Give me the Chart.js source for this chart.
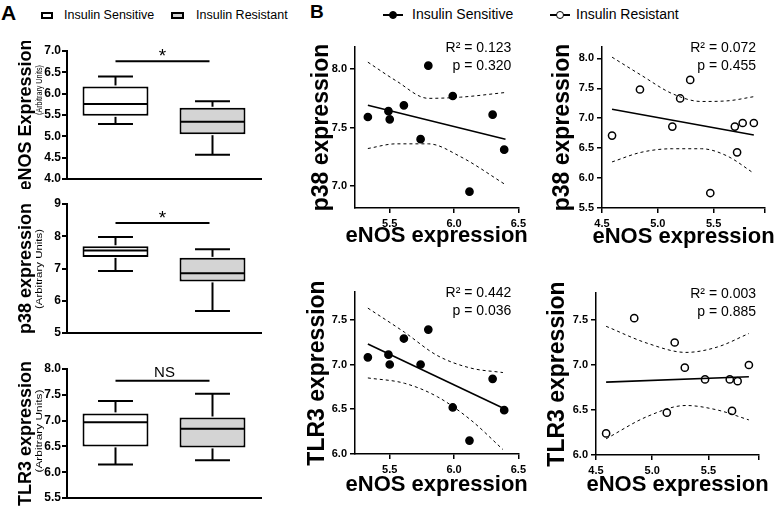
<!DOCTYPE html>
<html lang="en">
<head>
  <meta charset="UTF-8">
  <title>eNOS, p38 and TLR3 expression</title>
  <script src="https://cdn.jsdelivr.net/npm/chart.js@4.4.1/dist/chart.umd.min.js"></script>
  <style>
    html, body { margin: 0; padding: 0; background: #fff; }
    #fig { position: relative; width: 778px; height: 506px; overflow: hidden; font-family: "Liberation Sans", Arial, sans-serif; color: #000; }
    #fig canvas { position: absolute; }
    .panel { position: absolute; font-weight: bold; line-height: 1; }
    .leg { position: absolute; line-height: 1; white-space: nowrap; }
    .sw { position: absolute; box-sizing: border-box; border: 2px solid #000; }
    .ln { position: absolute; height: 2px; background: #000; }
    .dot { position: absolute; box-sizing: border-box; border-radius: 50%; border: 1.5px solid #000; }
  </style>
</head>
<body>
  <div id="fig">
    <span class="panel" style="left:1px;top:2px;font-size:21px">A</span>
    <span class="panel" style="left:310px;top:2px;font-size:19px">B</span>

    <!-- legend A -->
    <div class="sw" style="left:41px;top:12px;width:12px;height:7px;background:#fff"></div>
    <span class="leg" style="left:64px;top:9px;font-size:12.5px">Insulin Sensitive</span>
    <div class="sw" style="left:171px;top:12px;width:13px;height:7px;background:#d4d4d4"></div>
    <span class="leg" style="left:196px;top:9px;font-size:12.5px">Insulin Resistant</span>

    <!-- legend B -->
    <div class="ln" style="left:383px;top:14px;width:20px"></div>
    <div class="dot" style="left:389px;top:11px;width:8px;height:8px;background:#000"></div>
    <span class="leg" style="left:412px;top:7px;font-size:14px">Insulin Sensitive</span>
    <div class="ln" style="left:550px;top:14px;width:20px"></div>
    <div class="dot" style="left:556px;top:11px;width:8px;height:8px;background:#fff"></div>
    <span class="leg" style="left:576px;top:7px;font-size:14px">Insulin Resistant</span>

    <canvas id="boxEnos"></canvas>
    <canvas id="boxP38"></canvas>
    <canvas id="boxTlr3"></canvas>
    <canvas id="scIsP38"></canvas>
    <canvas id="scIrP38"></canvas>
    <canvas id="scIsTlr3"></canvas>
    <canvas id="scIrTlr3"></canvas>
  </div>

  <script>
    var FONT = '"Liberation Sans", Arial, sans-serif';
    var GROUPS = ["Insulin Sensitive", "Insulin Resistant"];

    // Panel A box plots: whisker min, Q1, median, Q3, whisker max (sensitive, resistant)
    var enosMin = [5.29, 4.57], enosQ1 = [5.48, 5.05], enosMed = [5.76, 5.34], enosQ3 = [6.17, 5.67], enosMax = [6.40, 5.82];
    var p38Min = [6.92, 5.68], p38Q1 = [7.36, 6.60], p38Med = [7.56, 6.85], p38Q3 = [7.69, 7.33], p38Max = [7.98, 7.60];
    var tlrMin = [6.15, 6.23], tlrQ1 = [6.50, 6.48], tlrMed = [6.97, 6.84], tlrQ3 = [7.14, 7.06], tlrMax = [7.38, 7.52];

    // Panel B individual subjects
    var isEnos = [5.33, 5.49, 5.50, 5.61, 5.74, 5.80, 5.99, 6.12, 6.30, 6.39];
    var isP38  = [7.59, 7.64, 7.57, 7.69, 7.40, 8.03, 7.77, 6.95, 7.61, 7.31];
    var isTlr3 = [7.08, 7.11, 7.00, 7.29, 7.00, 7.39, 6.52, 6.15, 6.84, 6.49];
    var irEnos = [4.59, 4.84, 5.13, 5.20, 5.29, 5.47, 5.69, 5.71, 5.76, 5.86];
    var irP38  = [6.71, 7.48, 6.86, 7.33, 7.64, 5.75, 6.86, 6.43, 6.92, 6.92];
    var irTlr3 = [6.24, 7.52, 6.47, 7.25, 6.97, 6.84, 6.84, 6.49, 6.82, 7.00];

    // Regression lines (ends) and 95% bands
    var fitIsP38X = [5.33, 6.40], fitIsP38Y = [7.69, 7.40];
    var bandIsP38X = [5.33, 5.55, 5.80, 6.05, 6.40];
    var bandIsP38Hi = [8.06, 7.90, 7.75, 7.76, 7.80];
    var bandIsP38Lo = [7.32, 7.36, 7.36, 7.25, 7.01];

    var fitIrP38X = [4.59, 5.86], fitIrP38Y = [7.15, 6.72];
    var bandIrP38X = [4.59, 4.85, 5.13, 5.39, 5.62, 5.86];
    var bandIrP38Hi = [8.02, 7.72, 7.41, 7.28, 7.29, 7.36];
    var bandIrP38Lo = [6.27, 6.43, 6.49, 6.49, 6.37, 6.08];

    var fitIsTlr3X = [5.33, 6.40], fitIsTlr3Y = [7.23, 6.50];
    var bandIsTlr3X = [5.33, 5.615, 5.87, 6.13, 6.38];
    var bandIsTlr3Hi = [7.63, 7.36, 7.10, 6.96, 6.91];
    var bandIsTlr3Lo = [6.85, 6.79, 6.64, 6.38, 6.05];

    var fitIrTlr3X = [4.59, 5.86], fitIrTlr3Y = [6.81, 6.87];
    var bandIrTlr3X = [4.59, 4.96, 5.30, 5.58, 5.86];
    var bandIrTlr3Hi = [7.43, 7.24, 7.14, 7.20, 7.35];
    var bandIrTlr3Lo = [6.18, 6.43, 6.55, 6.50, 6.39];

    // Tick values and labels
    var isXTicks = [5.5, 6.0, 6.5], isXLabels = ["5.5", "6.0", "6.5"];
    var irXTicksTop = [4.5, 5.0, 5.5, 5.96], irXTicksBot = [4.5, 5.0, 5.5, 5.95], irXLabels = ["4.5", "5.0", "5.5", ""];
    var isP38Ticks = [7.0, 7.5, 8.0];
    var irP38Ticks = [5.5, 6.0, 6.5, 7.0, 7.5, 8.0];
    var tlr3Ticks = [6.0, 6.5, 7.0, 7.5];

    var stIsP38 = ["R\u00B2 = 0.123", "p = 0.320"];
    var stIrP38 = ["R\u00B2 = 0.072", "p = 0.455"];
    var stIsTlr3 = ["R\u00B2 = 0.442", "p = 0.036"];
    var stIrTlr3 = ["R\u00B2 = 0.003", "p = 0.885"];

    function pts(xs, ys) {
      return xs.map(function(x, i) { return {x: x, y: ys[i]}; });
    }

    function place(id, left, top, w, h) {
      var c = document.getElementById(id);
      c.width = w; c.height = h;
      c.style.left = left + "px"; c.style.top = top + "px";
      c.style.width = w + "px"; c.style.height = h + "px";
      return c;
    }

    /* axis titles drawn at full width (the built-in title gets squeezed to the axis length) */
    var axisText = {
      id: "axisText",
      afterDraw: function(chart, args, o) {
        var ctx = chart.ctx, a = chart.chartArea;
        ctx.save();
        ctx.fillStyle = "#000";
        ctx.textAlign = "center";
        ctx.textBaseline = "middle";
        if (o.x) {
          ctx.font = "bold " + o.xSize + "px " + FONT;
          ctx.fillText(o.x, (a.left + a.right) / 2, a.bottom + o.xOff);
        }
        if (o.y) {
          ctx.translate(a.left - o.yOff, (a.top + a.bottom) / 2);
          ctx.rotate(-Math.PI / 2);
          ctx.font = "bold " + o.ySize + "px " + FONT;
          ctx.fillText(o.y, 0, 0);
        }
        ctx.restore();
      }
    };

    /* medians, whiskers, significance bar and small axis subtitle */
    var boxExtras = {
      id: "boxExtras",
      afterDatasetsDraw: function(chart, args, o) {
        var ctx = chart.ctx, xs = chart.scales.x, ys = chart.scales.y;
        var bars = chart.getDatasetMeta(0).data;
        function seg(x1, y1, x2, y2) { ctx.beginPath(); ctx.moveTo(x1, y1); ctx.lineTo(x2, y2); ctx.stroke(); }
        ctx.save();
        ctx.strokeStyle = "#000";
        ctx.lineWidth = 2;
        bars.forEach(function(bar, i) {
          var cx = xs.getPixelForValue(i), hw = bar.width / 2 - 1, cap = bar.width / 2 * 0.53;
          var yMed = ys.getPixelForValue(o.med[i]);
          seg(cx - hw, yMed, cx + hw, yMed);
          seg(cx, ys.getPixelForValue(o.q3[i]) - 1, cx, ys.getPixelForValue(o.max[i]));
          seg(cx - cap, ys.getPixelForValue(o.max[i]), cx + cap, ys.getPixelForValue(o.max[i]));
          seg(cx, ys.getPixelForValue(o.q1[i]) + 1, cx, ys.getPixelForValue(o.min[i]));
          seg(cx - cap, ys.getPixelForValue(o.min[i]), cx + cap, ys.getPixelForValue(o.min[i]));
        });
        // significance bar
        var x0 = xs.getPixelForValue(0), x1 = xs.getPixelForValue(1) - 3, sy = ys.getPixelForValue(o.sigY);
        seg(x0, sy, x1, sy);
        ctx.fillStyle = "#000";
        ctx.textAlign = "center";
        ctx.textBaseline = "alphabetic";
        if (o.sigText == "*") {
          ctx.font = "19px " + FONT;
          ctx.fillText("*", (x0 + x1) / 2, sy + 1);
        } else {
          ctx.font = "15px " + FONT;
          ctx.fillText(o.sigText, (x0 + x1) / 2 + 2, sy - 4);
        }
        // "(Arbitrary Units)"
        ctx.font = "9px " + FONT;
        ctx.textBaseline = "middle";
        var w = ctx.measureText("(Arbitrary Units)").width;
        ctx.translate(40, o.subY);
        ctx.rotate(-Math.PI / 2);
        ctx.scale(o.subLen / w, 1);
        ctx.fillText("(Arbitrary Units)", 0, 0);
        ctx.restore();
      }
    };

    function boxPlot(id, top, bottom, yMin, yMax, step, dec, title, q1, q3, med, min, max, sigY, sigText, subY, subLen) {
      var canvasTop = top - 10;
      var canvas = place(id, 0, canvasTop, 271, bottom - canvasTop + 10);
      return new Chart(canvas, {
        type: "bar",
        data: {
          labels: GROUPS,
          datasets: [{
            data: GROUPS.map(function(g, i) { return [q1[i], q3[i]]; }),
            backgroundColor: ["#ffffff", "#d4d4d4"],
            borderColor: "#000",
            borderWidth: 2,
            borderSkipped: false,
            barPercentage: 0.68,
            categoryPercentage: 1
          }]
        },
        options: {
          responsive: false,
          animation: false,
          events: [],
          layout: { padding: { top: 10, right: 10, bottom: 8, left: 0 } },
          plugins: {
            legend: { display: false },
            tooltip: { enabled: false },
            boxExtras: { q1: q1, q3: q3, med: med, min: min, max: max, sigY: sigY, sigText: sigText, subY: subY - canvasTop, subLen: subLen },
            axisText: { y: title, ySize: 18, yOff: 41 }
          },
          scales: {
            x: {
              ticks: { display: false },
              grid: { display: false },
              border: { display: true, color: "#000", width: 2 },
              afterFit: function(s) { s.height = 2; }
            },
            y: {
              min: yMin, max: yMax,
              ticks: { stepSize: step, padding: 1, color: "#000", font: { family: FONT, size: 12, weight: "bold" },
                callback: function(v) { return v.toFixed(dec); } },
              grid: { drawOnChartArea: false, tickLength: 5, color: "#000", lineWidth: 2 },
              border: { color: "#000", width: 2 },
              afterFit: function(s) { s.width = 67; }
            }
          }
        },
        plugins: [boxExtras, axisText]
      });
    }

    /* R² and p text in the upper right corner */
    var statText = {
      id: "statText",
      afterDraw: function(chart, args, o) {
        var ctx = chart.ctx, a = chart.chartArea;
        ctx.save();
        ctx.fillStyle = "#000";
        ctx.font = "14px " + FONT;
        ctx.textAlign = "right";
        ctx.textBaseline = "middle";
        ctx.fillText(o.lines[0], a.right - o.dx, a.top + 1);
        ctx.fillText(o.lines[1], a.right - o.dx, a.top + 19);
        ctx.restore();
      }
    };

    function scatterPlot(id, left, top, right, bottom, yW, xH, p) {
      var canvasLeft = left - yW, canvasTop = top - 10;
      var canvas = place(id, canvasLeft, canvasTop, right + 10 - canvasLeft, bottom - canvasTop + xH);
      var tickFont = { family: FONT, size: 11, weight: "bold" };
      var bandStyle = { showLine: true, borderColor: "#000", borderWidth: 1, borderDash: [3, 3], pointRadius: 0, cubicInterpolationMode: "monotone", fill: false };
      return new Chart(canvas, {
        type: "scatter",
        data: {
          datasets: [
            Object.assign({ data: pts(p.bandX, p.bandHi) }, bandStyle),
            Object.assign({ data: pts(p.bandX, p.bandLo) }, bandStyle),
            { data: pts(p.fitX, p.fitY), showLine: true, borderColor: "#000", borderWidth: 1.6, pointRadius: 0 },
            { data: pts(p.x, p.y), pointRadius: 3.6, pointBorderWidth: 1.5, pointBorderColor: "#000", pointBackgroundColor: p.fill }
          ]
        },
        options: {
          responsive: false,
          animation: false,
          events: [],
          layout: { padding: { top: 10, right: 10, bottom: 0, left: 0 } },
          plugins: {
            legend: { display: false },
            tooltip: { enabled: false },
            statText: { lines: p.stats, dx: p.dx },
            axisText: { x: "eNOS expression", xSize: 22, xOff: p.xOff, y: p.yTitle, ySize: 23, yOff: p.yOff }
          },
          scales: {
            x: {
              type: "linear", min: p.xMin, max: p.xMax,
              afterBuildTicks: function(s) { s.ticks = p.xTicks.map(function(v) { return { value: v }; }); },
              ticks: { padding: 4, color: "#000", font: tickFont, callback: function(v, i) { return p.xLabels[i]; } },
              grid: { drawOnChartArea: false, tickLength: 5, color: "#000", lineWidth: 1.5 },
              border: { color: "#000", width: 1.5 },
              afterFit: function(s) { s.height = xH; }
            },
            y: {
              min: p.yMin, max: p.yMax,
              afterBuildTicks: function(s) { s.ticks = p.yTicks.map(function(v) { return { value: v }; }); },
              ticks: { padding: 3, color: "#000", font: tickFont, callback: function(v) { return v.toFixed(1); } },
              grid: { drawOnChartArea: false, tickLength: 5, color: "#000", lineWidth: 1.5 },
              border: { color: "#000", width: 1.5 },
              afterFit: function(s) { s.width = yW; }
            }
          }
        },
        plugins: [statText, axisText]
      });
    }

    // Panel A
    boxPlot("boxEnos", 51, 179, 4.0, 7.0, 0.5, 1, "eNOS Expression",
      enosQ1, enosQ3, enosMed, enosMin, enosMax, 6.76, "*", 90, 50);
    boxPlot("boxP38", 204, 333, 5, 9, 1, 0, "p38 expression",
      p38Q1, p38Q3, p38Med, p38Min, p38Max, 8.41, "*", 269, 80);
    boxPlot("boxTlr3", 369, 498, 5.5, 8.0, 0.5, 1, "TLR3 expression",
      tlrQ1, tlrQ3, tlrMed, tlrMin, tlrMax, 7.77, "NS", 431, 83);

    // Panel B
    scatterPlot("scIsP38", 355, 47, 520, 208, 55, 44, {
      x: isEnos, y: isP38, fill: "#000", fitX: fitIsP38X, fitY: fitIsP38Y,
      bandX: bandIsP38X, bandHi: bandIsP38Hi, bandLo: bandIsP38Lo,
      xMin: 5.23, xMax: 6.5, xTicks: isXTicks, xLabels: isXLabels,
      yMin: 6.81, yMax: 8.19, yTicks: isP38Ticks, yTitle: "p38 expression", stats: stIsP38, dx: 7,
      xOff: 28, yOff: 33
    });
    scatterPlot("scIrP38", 602, 47, 765, 208, 57, 44, {
      x: irEnos, y: irP38, fill: "#fff", fitX: fitIrP38X, fitY: fitIrP38Y,
      bandX: bandIrP38X, bandHi: bandIrP38Hi, bandLo: bandIrP38Lo,
      xMin: 4.5, xMax: 5.96, xTicks: irXTicksTop, xLabels: irXLabels,
      yMin: 5.5, yMax: 8.19, yTicks: irP38Ticks, yTitle: "p38 expression", stats: stIrP38, dx: 9,
      xOff: 29, yOff: 39
    });
    scatterPlot("scIsTlr3", 355, 292, 520, 454, 55, 46, {
      x: isEnos, y: isTlr3, fill: "#000", fitX: fitIsTlr3X, fitY: fitIsTlr3Y,
      bandX: bandIsTlr3X, bandHi: bandIsTlr3Hi, bandLo: bandIsTlr3Lo,
      xMin: 5.23, xMax: 6.5, xTicks: isXTicks, xLabels: isXLabels,
      yMin: 6.0, yMax: 7.81, yTicks: tlr3Ticks, yTitle: "TLR3 expression", stats: stIsTlr3, dx: 7,
      xOff: 31, yOff: 37
    });
    scatterPlot("scIrTlr3", 596, 293, 759, 455, 56, 46, {
      x: irEnos, y: irTlr3, fill: "#fff", fitX: fitIrTlr3X, fitY: fitIrTlr3Y,
      bandX: bandIrTlr3X, bandHi: bandIrTlr3Hi, bandLo: bandIrTlr3Lo,
      xMin: 4.5, xMax: 5.95, xTicks: irXTicksBot, xLabels: irXLabels,
      yMin: 6.0, yMax: 7.80, yTicks: tlr3Ticks, yTitle: "TLR3 expression", stats: stIrTlr3, dx: 3,
      xOff: 30, yOff: 38
    });
  </script>
</body>
</html>
